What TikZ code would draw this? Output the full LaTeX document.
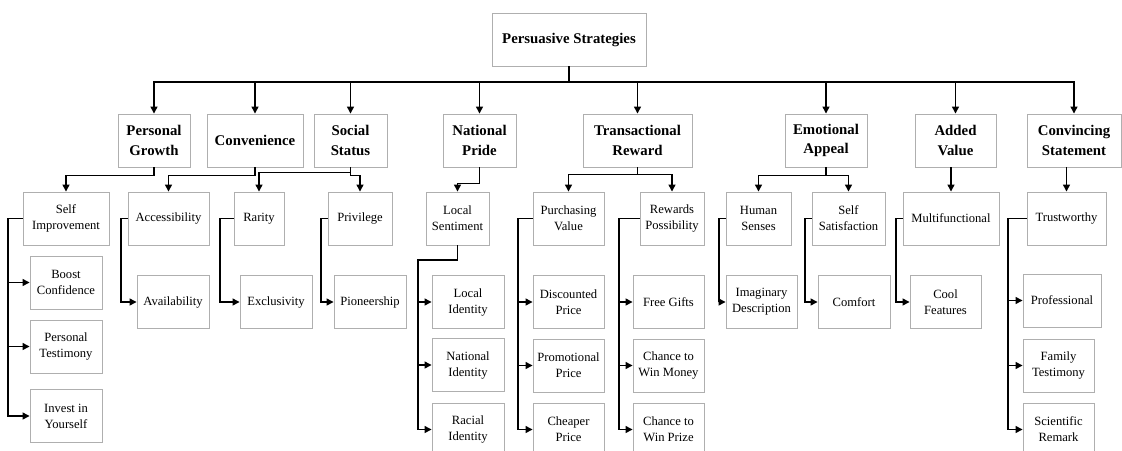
\documentclass[tikz,border=0pt]{standalone}
\usepackage{fontspec}
\setmainfont{Liberation Serif}
\usepackage{tikz}
\usetikzlibrary{arrows.meta}
\definecolor{boxgray}{RGB}{175,175,175}

\begin{document}
\begin{tikzpicture}[x=1pt, y=-1pt,
  itembox/.style={draw=boxgray, line width=0.9pt, fill=white, align=center, inner sep=1pt,
    minimum height=53, font=\fontsize{12.6}{16}\selectfont},
  catbox/.style={itembox, font=\fontsize{14.8}{19.3}\selectfont\bfseries},
  link/.style={line width=1.3pt, -{Triangle[length=7pt,width=7pt]}}]
\path[use as bounding box, clip] (0,0) rectangle (1122,450);
\node[catbox, minimum width=154] (ps) at (569,39.5) {Persuasive Strategies};
\foreach \n/\x/\w/\t in {pg/154/72/{Personal\\Growth}, cv/255/96/{Convenience},
  ss/350.5/73/{Social\\Status}, np/479.5/73/{National\\Pride}, tr/637.5/109/{Transactional\\Reward},
  ea/826/82/{Emotional\\Appeal}, av/955.5/81/{Added\\Value}, cs/1074/94/{Convincing\\Statement}} {
  \node[catbox, minimum width=\w] (\n) at (\x,140.5) {\t};
}
\foreach \n/\x/\w/\t in {si/66/86/{Self\\Improvement}, ac/168.5/81/{Accessibility}, ra/259/50/{Rarity},
  pv/360/64/{Privilege}, ls/457.5/63/{Local\\Sentiment}, pu/568.5/71/{Purchasing\\Value},
  rp/672/64/{Rewards\\Possibility}, hs/758.5/65/{Human\\Senses}, sf/848.5/73/{Self\\Satisfaction},
  mf/951/96/{Multifunctional}, tw/1066.5/79/{Trustworthy}} {
  \node[itembox, minimum width=\w] (\n) at (\x,218.5) {\t};
}
\foreach \n/\x/\y/\w/\t in {bc/66/282.5/72/{Boost\\Confidence}, pt/66/346.5/72/{Personal\\Testimony},
  iy/66/416/72/{Invest in\\Yourself}, avl/173/302/72/{Availability}, ex/276/302/72/{Exclusivity},
  pn/370/302/72/{Pioneership}, li/468/302/72/{Local\\Identity}, ni/468/365/72/{National\\Identity},
  ri/468/429.5/72/{Racial\\Identity}, dp/568.5/302/71/{Discounted\\Price}, pp/568.5/365.5/71/{Promotional\\Price},
  cp/568.5/429.5/71/{Cheaper\\Price}, fg/668.5/302/71/{Free Gifts}, cm/668.5/365.5/71/{Chance to\\Win Money},
  cz/668.5/429.5/71/{Chance to\\Win Prize}, id/761.5/302/71/{Imaginary\\Description}, cf/854/302/72/{Comfort},
  cl/945.5/302/71/{Cool\\Features}, pf/1062/300.5/78/{Professional}, ft/1058.5/365.5/71/{Family\\Testimony},
  sr/1058.5/429.5/71/{Scientific\\Remark}} {
  \node[itembox, minimum width=\w] (\n) at (\x,\y) {\t};
}
\coordinate (bus) at (0,82);
\draw[line width=1.3pt] (ps.south) -- (ps.south |- bus);
\foreach \n in {pg,cv,ss,np,tr,ea,av,cs} {
  \draw[link] (ps.south |- bus) -| (\n.north);
}
\foreach \p/\c/\d in {pg/si/8, cv/ac/8, ss/ra/5, ss/pv/8, np/ls/16, tr/pu/7, tr/rp/7, ea/hs/8, ea/sf/8} {
  \draw[link] (\p.south) -- ++(0,\d) -| (\c.north);
}
\draw[link] (mf.north |- av.south) -- (mf.north);
\draw[link] (tw.north |- cs.south) -- (tw.north);
\foreach \p/\b/\c in {si/8/bc, si/8/pt, si/8/iy, ac/121/avl, ra/220/ex, pv/321/pn,
  pu/518/dp, pu/518/pp, pu/518/cp, rp/619/fg, rp/619/cm, rp/619/cz,
  hs/719/id, sf/805/cf, mf/896/cl, tw/1008/pf, tw/1008/ft, tw/1008/sr} {
  \coordinate (bar) at (\b,0);
  \draw[link] (\p.west) -- (\p.west -| bar) |- (\c.west);
}
\coordinate (lsbar) at (418,260);
\foreach \c in {li,ni,ri} {
  \draw[link] (ls.south) |- (lsbar) |- (\c.west);
}
\end{tikzpicture}
\end{document}
